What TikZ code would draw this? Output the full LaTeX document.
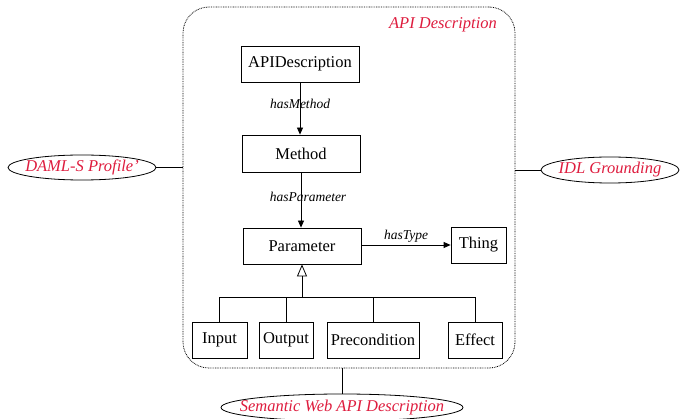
\documentclass[tikz,border=0pt]{standalone}
\usepackage{fontspec}
\setmainfont{Liberation Serif}
\usetikzlibrary{arrows.meta,shapes.geometric}
\definecolor{labelred}{RGB}{222,28,62}
\tikzset{
  cls/.style={draw, line width=0.8pt, inner sep=0pt, font=\fontsize{16.5}{19}\selectfont},
  role/.style={font=\fontsize{13.5}{15}\selectfont\itshape, inner sep=1pt},
  redtxt/.style={text=labelred, font=\fontsize{16.5}{19}\selectfont\itshape},
  oval/.style={ellipse, draw, line width=0.8pt, inner sep=0pt},
  conn/.style={line width=0.8pt},
  assoc/.style={conn, -{Triangle[width=6pt,length=7pt]}},
  inherit/.style={conn, -{Triangle[open,width=10pt,length=12pt]}},
}
\begin{document}
\begin{tikzpicture}[x=1pt, y=-1pt]
\useasboundingbox (0,0) rectangle (680,419);

% enclosing description package
\node[draw, dash pattern=on 0.8pt off 0.9pt, line width=0.8pt, rounded corners=26pt,
      minimum width=332pt, minimum height=361pt] (api) at (349,187.5) {};
\node[redtxt] (apilbl) at (443,25) {API Description};

% classes
\node[cls, minimum width=118pt, minimum height=36pt] (desc) at (300,64) {APIDescription};
\node[cls, minimum width=118pt, minimum height=37pt] (meth) at (301,153.5) {Method};
\node[cls, minimum width=118pt, minimum height=36pt] (par)  at (302,246) {Parameter};
\node[cls, minimum width=55pt,  minimum height=36pt] (thing) at (478.5,245) {Thing};
\node[cls, minimum width=55pt,  minimum height=36pt] (inp) at (219.5,340) {Input};
\node[cls, minimum width=54pt,  minimum height=36pt] (outp) at (286,340) {Output};
\node[cls, minimum width=92pt,  minimum height=36pt] (pre) at (373,340) {Precondition};
\node[cls, minimum width=54pt,  minimum height=36pt] (eff) at (475,340) {Effect};

% associations
\draw[assoc] (desc.south) -- (desc.south |- meth.north);
\draw[assoc] (meth.south) -- (meth.south |- par.north);
\draw[assoc] (par.east |- thing.center) -- (thing.west);
\node[role] (hm) at (300,104) {hasMethod};
\node[role] (hp) at (308,197) {hasParameter};
\node[role] (ht) at (406,236) {hasType};

% generalisation
\coordinate (bar) at (302,297);
\draw[conn] (inp.north) -- (inp.north |- bar) -- (eff.north |- bar) -- (eff.north);
\draw[conn] (outp.north) -- (outp.north |- bar);
\draw[conn] (pre.north) -- (pre.north |- bar);
\draw[inherit] (bar) -- (bar |- par.south);

% related descriptions
\node[oval, minimum width=148pt, minimum height=25pt,
      label={[redtxt]center:DAML-S Profile'}] (daml) at (82,167.5) {};
\node[oval, minimum width=138pt, minimum height=26pt,
      label={[redtxt]center:IDL Grounding}] (idl) at (610,170) {};
\node[oval, minimum width=242pt, minimum height=27pt,
      label={[redtxt]center:Semantic Web API Description}] (sem) at (342,407.5) {};

\draw[conn] (daml.east) -- (daml.east -| api.west);
\draw[conn] (idl.west) -- (idl.west -| api.east);
\draw[conn] (sem.north) -- (sem.north |- api.south);
\end{tikzpicture}
\end{document}
